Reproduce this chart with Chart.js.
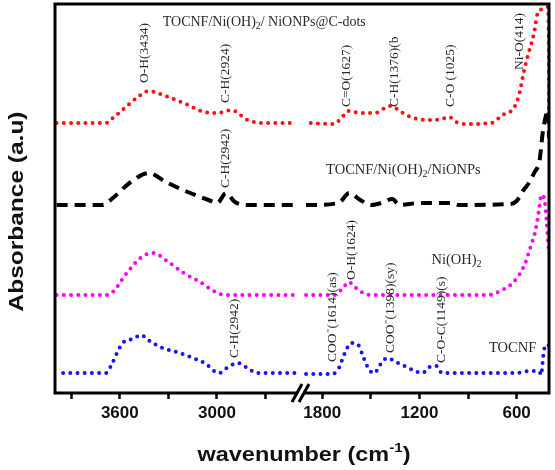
<!DOCTYPE html>
<html><head><meta charset="utf-8">
<script src="https://cdn.jsdelivr.net/npm/chart.js@4.4.1/dist/chart.umd.min.js"></script>
<style>html,body{margin:0;padding:0;background:#fff}#wrap{width:555px;height:470px}</style>
</head><body><div id="wrap"><canvas id="c" width="555" height="470"></canvas></div>
<script>
// ---- data (wavenumber in cm^-1, absorbance in arbitrary units, curves offset as in the figure) ----
const tickWavenumbers = [3900, 3600, 3300, 3000, 2700, 1800, 1500, 1200, 900, 600];
const tickLabels      = ['', '3600', '', '3000', '', '1800', '', '1200', '', '600'];

const wnRed  = [3990,3686,3643,3563,3489,3422,3335,3206,3077,2991,2911,2812,2708,2511,
                1871,1729,1676,1639,1565,1478,1379,1302,1237,1126,1061,1018,974,909,755,687,613,582,557,526,492,470,439,408,401,400];
const absRed = [270,270,275,286,296,302,298,290,281,280,283,273,270,270,
                270,269,276,282,280,280,287,280,275,273,274,276,271,269,270,278,286,300,320,340,360,380,384,386,340,283];

const wnBlack  = [3990,3705,3643,3532,3421,3316,3181,3052,2997,2945,2889,2812,2500,
                  1900,1883,1699,1633,1565,1497,1435,1367,1324,1200,1070,1002,958,640,600,557,520,492,458,439,415,405,400];
const absBlack = [188,188,195,211,220,211,201,193,190,200,191,188,188,
                  188,188,190,200,193,188,190,194,188,190,190,190,188,189,192,203,211,220,233,260,280,283,255];

const wnMagenta  = [3990,3686,3643,3557,3465,3391,3317,3206,3095,3009,2945,2500,
                    1900,1727,1672,1638,1591,1547,1500,777,689,625,557,514,483,460,448,430,415,405,400];
const absMagenta = [98,98,101,120,136,140,133,120,110,101,98,98,
                    98,98,105,111,105,100,98,98,103,110,126,146,163,185,198,195,172,150,140];

const wnBlue  = [3950,3686,3643,3609,3575,3520,3468,3425,3335,3249,3163,3077,2988,2923,2868,2812,2750,2500,
                 1900,1740,1697,1666,1621,1578,1544,1510,1478,1444,1400,1345,1280,1213,1181,1138,1095,1061,900,600,520,490,458,448,437,427,410,402];
const absBlue = [20,20,31,43,51,54,58,53,45,41,36,30,20,27,30,25,20,20,
                 19,19,25,38,50,48,35,23,20,28,35,31,26,21,20,26,27,20,20,20,22,22,21,18,35,45,44,48];

// ---- broken axis: 4000-2500 | gap | 1900-400 ----
const GAP = 50;
function toP(w){ return w >= 2200 ? 4000 - w : 1500 + GAP + (1900 - w); }
function series(wn, ab){
  const out = [];
  for (let i = 0; i < wn.length; i++){
    if (i > 0 && wn[i-1] >= 2200 && wn[i] < 2200) out.push({x: 1500 + GAP/2, y: null});
    out.push({x: toP(wn[i]), y: ab[i]});
  }
  return out;
}

const serif = '"Liberation Serif", "Times New Roman", serif';
const sans = '"Liberation Sans", Arial, sans-serif';
const annColor = '#2a2a2a';

const rotatedNotes = [
  {t:'O-H(3434)', w:3446, v:310},
  {t:'C-H(2924)', w:2945, v:290},
  {t:'C=O(1627)', w:1652, v:286},
  {t:'C-H(1376)(b', w:1355, v:286},
  {t:'C-O (1025)', w:1008, v:286},
  {t:'Ni-O(414)', w:582, v:323},
  {t:'C-H(2942)', w:2945, v:205},
  {t:'O-H(1624)', w:1621, v:113},
  {t:'C-H(2942)', w:2893, v:35},
  {t:'COO\u207B(1614)(as)', w:1738, v:31},
  {t:'COO\u207B(1398)(sy)', w:1379, v:40},
  {t:'C-O-C(1149)(s)', w:1061, v:30}
];
const flatNotes = [
  {segs:[['TOCNF/Ni(OH)',0],['2',1],['/ NiONPs@C-dots',0]], w:2708, v:371, size:14},
  {segs:[['TOCNF/Ni(OH)',0],['2',1],['/NiONPs',0]], w:1299, v:223, size:14.5},
  {segs:[['Ni(OH)',0],['2',1]], w:971, v:133, size:14.5},
  {segs:[['TOCNF',0]], w:625, v:45, size:14.5}
];

const decor = {
  id: 'decor',
  afterDraw(chart){
    const ctx = chart.ctx, a = chart.chartArea;
    const xs = chart.scales.x, ys = chart.scales.y;
    ctx.save();
    // frame
    ctx.strokeStyle = '#000'; ctx.lineWidth = 3;
    ctx.strokeRect(a.left, a.top, a.right - a.left, a.bottom - a.top);
    // axis break
    const bx = xs.getPixelForValue(1500 + GAP/2) - 1;
    ctx.fillStyle = '#fff';
    ctx.fillRect(bx - 3, a.bottom - 3, 6, 6);
    ctx.lineWidth = 3; ctx.lineCap = 'butt';
    ctx.beginPath();
    ctx.moveTo(bx - 9, a.bottom + 9); ctx.lineTo(bx + 1, a.bottom - 9);
    ctx.moveTo(bx - 2, a.bottom + 9); ctx.lineTo(bx + 8, a.bottom - 9);
    ctx.stroke();
    // rotated annotations
    ctx.fillStyle = annColor;
    ctx.font = '13.5px ' + serif;
    ctx.textAlign = 'left'; ctx.textBaseline = 'middle';
    rotatedNotes.forEach(n => {
      const x = xs.getPixelForValue(toP(n.w)), y = ys.getPixelForValue(n.v);
      ctx.save(); ctx.translate(x, y); ctx.rotate(-Math.PI/2);
      ctx.fillText(n.t, 0, 0); ctx.restore();
    });
    // horizontal annotations with subscripts
    ctx.textBaseline = 'middle';
    flatNotes.forEach(n => {
      const main = n.size + 'px ' + serif, sub = (n.size*0.7) + 'px ' + serif;
      let total = 0;
      n.segs.forEach(s => { ctx.font = s[1] ? sub : main; total += ctx.measureText(s[0]).width; });
      let x = xs.getPixelForValue(toP(n.w)) - total/2;
      const y = ys.getPixelForValue(n.v);
      n.segs.forEach(s => {
        ctx.font = s[1] ? sub : main;
        ctx.fillText(s[0], x, s[1] ? y + n.size*0.3 : y);
        x += ctx.measureText(s[0]).width;
      });
    });
    // axis titles
    ctx.fillStyle = '#111';
    ctx.font = 'bold 20px ' + sans;
    ctx.textBaseline = 'alphabetic'; ctx.textAlign = 'center';
    const yt = 'Absorbance (a.u)';
    const yw = ctx.measureText(yt).width;
    ctx.save(); ctx.translate(23, (a.top + a.bottom)/2 + 13); ctx.rotate(-Math.PI/2);
    ctx.scale(200 / yw, 1); ctx.fillText(yt, 0, 0); ctx.restore();

    const p1 = 'wavenumber (cm', p2 = '-1', p3 = ')';
    ctx.textAlign = 'left';
    ctx.font = 'bold 20px ' + sans; const w1 = ctx.measureText(p1).width, w3 = ctx.measureText(p3).width;
    ctx.font = 'bold 13px ' + sans; const w2 = ctx.measureText(p2).width;
    const tot = w1 + w2 + w3, k = 213 / tot;
    ctx.save(); ctx.translate(304 - 213/2, 461); ctx.scale(k, 1);
    ctx.font = 'bold 20px ' + sans; ctx.fillText(p1, 0, 0);
    ctx.font = 'bold 13px ' + sans; ctx.fillText(p2, w1, -9);
    ctx.font = 'bold 20px ' + sans; ctx.fillText(p3, w1 + w2, 0);
    ctx.restore();
    ctx.restore();
  }
};

function dotted(color, wn, ab){
  return {data: series(wn, ab), borderColor: color, borderWidth: 4, borderDash: [0, 7.2],
          borderCapStyle: 'round', pointRadius: 0, cubicInterpolationMode: 'monotone', spanGaps: false, fill: false};
}

new Chart(document.getElementById('c'), {
  type: 'line',
  data: { datasets: [
    dotted('#ff1010', wnRed, absRed),
    {data: series(wnBlack, absBlack), borderColor: '#000', borderWidth: 4, borderDash: [11, 7],
     borderCapStyle: 'butt', pointRadius: 0, cubicInterpolationMode: 'monotone', spanGaps: false, fill: false},
    dotted('#ff00ff', wnMagenta, absMagenta),
    dotted('#1414ff', wnBlue, absBlue)
  ]},
  options: {
    responsive: false, animation: false, events: [],
    layout: {padding: {top: 4, right: 6, left: 0, bottom: 0}},
    plugins: {legend: {display: false}, tooltip: {enabled: false}},
    scales: {
      x: {
        type: 'linear', min: 0, max: 3000 + GAP,
        afterBuildTicks(s){ s.ticks = tickWavenumbers.map(w => ({value: toP(w)})); },
        afterFit(s){ s.height = 77; },
        ticks: {autoSkip: false, maxRotation: 0, padding: 4, color: '#111',
                font: {family: sans, size: 17, weight: 'bold'},
                callback: (v, i) => tickLabels[i]},
        grid: {drawOnChartArea: false, drawTicks: true, tickLength: 6, tickColor: '#000', tickWidth: 2.5, color: '#000'},
        border: {display: false}
      },
      y: {
        min: 0, max: 389,
        afterFit(s){ s.width = 55; },
        ticks: {display: false},
        grid: {display: false},
        border: {display: false}
      }
    }
  },
  plugins: [decor]
});
</script></body></html>
